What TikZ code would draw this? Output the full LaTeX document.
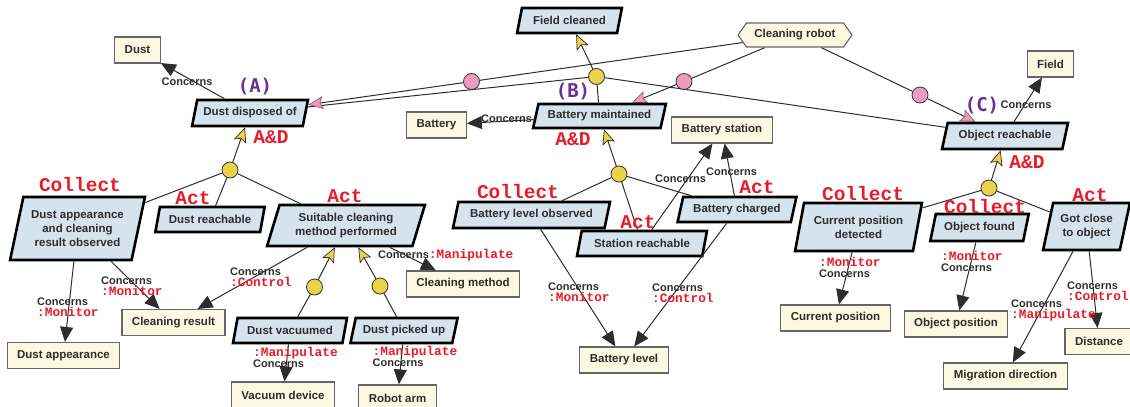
\documentclass[tikz,border=0pt]{standalone}
\usepackage{fontspec}
\setmainfont{Liberation Sans}
\newfontfamily\courfont{Liberation Mono}
\newfontfamily\tagfont{DejaVu Sans Mono}
\usetikzlibrary{shapes.geometric,shapes.symbols,arrows.meta,backgrounds}

\definecolor{goalblue}{RGB}{212,227,236}
\definecolor{thingcream}{RGB}{251,249,226}
\definecolor{andyellow}{RGB}{234,211,72}
\definecolor{agentpink}{RGB}{238,156,190}
\definecolor{tagred}{RGB}{232,28,40}
\definecolor{tagpurple}{RGB}{108,48,148}
\definecolor{inkgray}{RGB}{45,45,45}

\newcommand{\role}[1]{{\color{tagred}\courfont\bfseries\fontsize{12.8}{11}\selectfont #1}}

\begin{document}
\begin{tikzpicture}[x=1pt,y=-1pt,
    goal/.style={trapezium, trapezium left angle=70, trapezium right angle=110,
      trapezium stretches=true, draw=black, line width=2.6pt, fill=goalblue,
      text=inkgray, font=\fontsize{11.5}{14}\selectfont\bfseries, align=center, inner sep=1pt},
    thing/.style={rectangle, draw=black!60, line width=1.1pt, fill=thingcream,
      text=inkgray, font=\fontsize{11.5}{14}\selectfont\bfseries, minimum height=26pt, inner xsep=10pt},
    agent/.style={signal, signal to=west and east, signal pointer angle=110,
      draw=black!60, line width=1.1pt, fill=thingcream, text=inkgray,
      font=\fontsize{11.5}{14}\selectfont\bfseries, minimum height=24pt, inner xsep=8pt},
    anddot/.style={circle, draw=black!80, line width=0.8pt, fill=andyellow, minimum size=16pt, inner sep=0pt},
    pinkdot/.style={anddot, fill=agentpink},
    link/.style={draw=inkgray, line width=1pt},
    concern/.style={link, -{Triangle[length=15pt,width=13pt]}},
    refine/.style={link, -{Stealth[length=15pt,width=13pt,inset=3pt,line width=0.7pt,fill=andyellow]}},
    wish/.style={link, -{Stealth[length=15pt,width=13pt,inset=3pt,line width=0.7pt,fill=agentpink,color=agentpink!60!black]}},
    kind/.style={text=tagred, font=\courfont\bfseries\fontsize{19.5}{20}\selectfont, inner sep=0pt},
    letter/.style={text=tagpurple, font=\tagfont\bfseries\fontsize{19}{20}\selectfont, inner sep=0pt},
    lbl/.style={text=inkgray, font=\fontsize{11}{11}\selectfont\bfseries, align=left, inner sep=0pt, anchor=west}]

  \clip (0,0) rectangle (1130,407);

  % goals
  \node[goal, minimum width=105pt, minimum height=25pt] (fc) at (569.5,20.5) {Field cleaned};
  \node[goal, minimum width=116pt, minimum height=26pt] (dap) at (250,113) {Dust disposed of};
  \node[goal, minimum width=133pt, minimum height=24pt] (bm) at (599.5,116) {Battery maintained};
  \node[goal, minimum width=126pt, minimum height=26pt] (or) at (1005,136) {Object reachable};
  \node[goal, minimum width=135pt, minimum height=63pt, trapezium left angle=73,
    trapezium right angle=107] (dao) at (77.5,228.5) {Dust appearance\\and cleaning\\result observed};
  \node[goal, minimum width=110pt, minimum height=25pt] (dr) at (210,219.5) {Dust reachable};
  \node[goal, minimum width=158pt, minimum height=41pt] (scm) at (346,225.5) {Suitable cleaning\\method performed};
  \node[goal, minimum width=114pt, minimum height=25pt] (dv) at (290,330.5) {Dust vacuumed};
  \node[goal, minimum width=108pt, minimum height=25pt] (dpu) at (404,330.5) {Dust picked up};
  \node[goal, minimum width=157pt, minimum height=26pt] (blo) at (531.5,215) {Battery level observed};
  \node[goal, minimum width=130pt, minimum height=25pt] (sr) at (642,243.5) {Station reachable};
  \node[goal, minimum width=119pt, minimum height=25pt] (bc) at (737,209.5) {Battery charged};
  \node[goal, minimum width=127pt, minimum height=48pt, trapezium left angle=73,
    trapezium right angle=107] (cpd) at (858.5,227) {Current position\\detected};
  \node[goal, minimum width=99pt, minimum height=27pt] (of) at (979.5,227.5) {Object found};
  \node[goal, minimum width=87pt, minimum height=47pt, trapezium left angle=73,
    trapezium right angle=107] (gc) at (1086.5,226.5) {Got close\\to object};

  % things
  \node[agent] (robot) at (795,35) {Cleaning robot};
  \node[thing] (dust) at (137.5,50) {Dust};
  \node[thing] (bat) at (436.5,125) {Battery};
  \node[thing] (bs) at (722,130) {Battery station};
  \node[thing] (field) at (1050.5,64) {Field};
  \node[thing] (dapp) at (63.5,355.5) {Dust appearance};
  \node[thing] (cres) at (173.5,322.5) {Cleaning result};
  \node[thing] (cm) at (463,284) {Cleaning method};
  \node[thing] (vd) at (283,395) {Vacuum device};
  \node[thing] (ra) at (397.5,398) {Robot arm};
  \node[thing] (bl) at (624,360) {Battery level};
  \node[thing] (cp) at (835.5,318) {Current position};
  \node[thing] (op) at (956,324) {Object position};
  \node[thing] (md) at (1005.5,376) {Migration direction};
  \node[thing] (dist) at (1099,341.5) {Distance};

  % and-dots and agent dots
  \node[anddot] (cF) at (596.5,76.5) {};
  \node[anddot] (cA) at (230,170) {};
  \node[anddot] (cB) at (619,174) {};
  \node[anddot] (cC) at (989,188) {};
  \node[anddot] (cV) at (314.5,287) {};
  \node[anddot] (cP) at (380,286) {};
  \node[pinkdot] (pA) at (471.5,81.5) {};
  \node[pinkdot] (pB) at (684,81.5) {};
  \node[pinkdot] (pC) at (920,95) {};

  \begin{pgfonlayer}{background}
    % refinement
    \draw[refine] (cF) -- (fc);
    \draw[link] (cF) -- (dap);
    \draw[link] (cF) -- (bm);
    \draw[link] (cF) -- (or);
    \draw[refine] (cA) -- (dap);
    \draw[link] (cA) -- (dao);
    \draw[link] (cA) -- (dr);
    \draw[link] (cA) -- (scm);
    \draw[refine] (cV) -- (scm);
    \draw[refine] (cP) -- (scm);
    \draw[link] (cV) -- (dv);
    \draw[link] (cP) -- (dpu);
    \draw[refine] (cB) -- (bm);
    \draw[link] (cB) -- (blo);
    \draw[link] (cB) -- (sr);
    \draw[link] (cB) -- (bc);
    \draw[refine] (cC) -- (or);
    \draw[link] (cC) -- (cpd);
    \draw[link] (cC) -- (gc);
    % responsibility
    \draw[link] (robot) -- (pA);
    \draw[wish] (pA) -- (dap);
    \draw[link] (robot) -- (pB);
    \draw[wish] (pB) -- (bm);
    \draw[link] (robot) -- (pC);
    \draw[wish] (pC) -- (or);
  \end{pgfonlayer}

  % concerns
  \draw[concern] (dap) -- (dust);
  \draw[concern] (bm) -- (bat);
  \draw[concern] (or) -- (field);
  \draw[concern] (dao) -- (dapp);
  \draw[concern] (dao) -- (cres);
  \draw[concern] (scm) -- (cres);
  \draw[concern] (scm) -- (cm);
  \draw[concern] (dv) -- (vd);
  \draw[concern] (dpu) -- (ra);
  \draw[concern] (sr) -- (bs);
  \draw[concern] (bc) -- (bs);
  \draw[concern] (blo) -- (bl);
  \draw[concern] (bc) -- (bl);
  \draw[concern] (cpd) -- (cp);
  \draw[concern] (of) -- (op);
  \draw[concern] (gc) -- (md);
  \draw[concern] (gc) -- (dist);

  \node[lbl] (l1) at (161.5,82) {Concerns};
  \node[lbl] (l2) at (37,307.5) {Concerns\\\role{:Monitor}};
  \node[lbl] (l3) at (101,286.5) {Concerns\\\role{:Monitor}};
  \node[lbl] (l4) at (230,277) {Concerns\\\role{:Control}};
  \node[lbl] (l5) at (378,255) {Concerns\role{:Manipulate}};
  \node[lbl] (l6) at (253,357.5) {\role{:Manipulate}\\Concerns};
  \node[lbl] (l7) at (372.5,356) {\role{:Manipulate}\\Concerns};
  \node[lbl] (l8) at (481,119) {Concerns};
  \node[lbl] (l9) at (655,179) {Concerns};
  \node[lbl] (l10) at (706,172) {Concerns};
  \node[lbl] (l11) at (548,292) {Concerns\\\role{:Monitor}};
  \node[lbl] (l12) at (652,293) {Concerns\\\role{:Control}};
  \node[lbl] (l13) at (1000.5,104.5) {Concerns};
  \node[lbl] (l14) at (819,267.5) {\role{:Monitor}\\Concerns};
  \node[lbl] (l15) at (941,261) {\role{:Monitor}\\Concerns};
  \node[lbl] (l16) at (1011,310.5) {Concerns\\\role{:Manipulate}};
  \node[lbl] (l17) at (1067,291) {Concerns\\\role{:Control}};

  % goal kinds
  \node[kind] (k1) at (80,185) {Collect};
  \node[kind] (k2) at (193,198) {Act};
  \node[kind] (k3) at (345,196) {Act};
  \node[kind] (k4) at (271,137) {A\&D};
  \node[kind] (k5) at (518,192) {Collect};
  \node[kind] (k6) at (573,139) {A\&D};
  \node[kind] (k7) at (638,222) {Act};
  \node[kind] (k8) at (757,187) {Act};
  \node[kind] (k9) at (863,194) {Collect};
  \node[kind] (k10) at (985,207) {Collect};
  \node[kind] (k11) at (1090,195) {Act};
  \node[kind] (k12) at (1027,162) {A\&D};

  \node[letter] (tA) at (255,87) {(A)};
  \node[letter] (tB) at (573,92) {(B)};
  \node[letter] (tC) at (982,106) {(C)};
\end{tikzpicture}
\end{document}
